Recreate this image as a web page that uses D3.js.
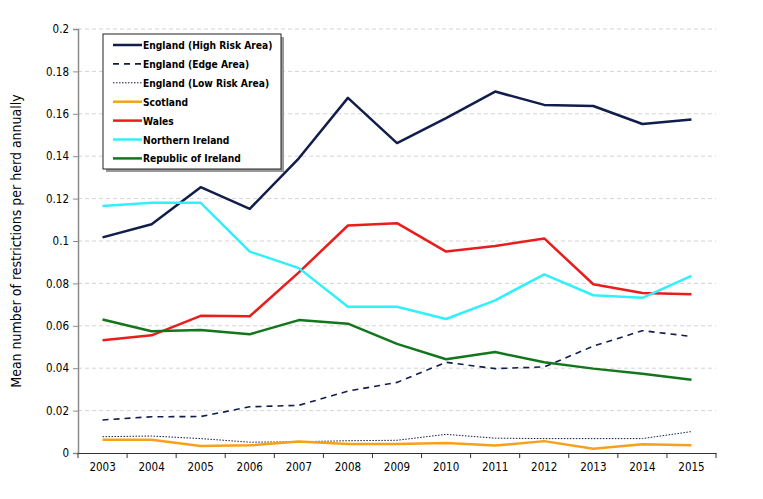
<!DOCTYPE html>
<html>
<head>
<meta charset="utf-8">
<script src="https://cdn.jsdelivr.net/npm/d3@7"></script>
<style>
  body { margin: 0; background: #fff; }
  text { font-family: Tahoma, "DejaVu Sans Condensed", "DejaVu Sans", sans-serif; }
</style>
</head>
<body>
<div id="container"></div>
<script>
const years = ['2003', '2004', '2005', '2006', '2007', '2008', '2009', '2010', '2011', '2012', '2013', '2014', '2015'];
const yTicks = [0, 0.02, 0.04, 0.06, 0.08, 0.1, 0.12, 0.14, 0.16, 0.18, 0.2];

const englandHigh = [0.1017, 0.1079, 0.1254, 0.1152, 0.1390, 0.1675, 0.1462, 0.1580, 0.1705, 0.1642, 0.1637, 0.1552, 0.1573];
const englandEdge = [0.0156, 0.0171, 0.0172, 0.0218, 0.0225, 0.0292, 0.0333, 0.0428, 0.0398, 0.0406, 0.0504, 0.0577, 0.0550];
const englandLow = [0.0077, 0.0080, 0.0068, 0.0051, 0.0053, 0.0058, 0.0060, 0.0088, 0.0070, 0.0068, 0.0068, 0.0068, 0.0101];
const scotland = [0.0062, 0.0062, 0.0033, 0.0036, 0.0054, 0.0042, 0.0042, 0.0047, 0.0035, 0.0056, 0.0020, 0.0041, 0.0036];
const wales = [0.0532, 0.0555, 0.0647, 0.0645, 0.0852, 0.1073, 0.1084, 0.0950, 0.0976, 0.1012, 0.0796, 0.0755, 0.0749];
const northernIreland = [0.1165, 0.1180, 0.1180, 0.0950, 0.0872, 0.0690, 0.0690, 0.0632, 0.0720, 0.0843, 0.0744, 0.0732, 0.0835];
const republicOfIreland = [0.0630, 0.0574, 0.0580, 0.0560, 0.0627, 0.0610, 0.0515, 0.0442, 0.0476, 0.0428, 0.0398, 0.0374, 0.0345];

const series = [
    { name: 'England (High Risk Area)', values: englandHigh, color: '#111d4a', width: 2.5, dash: null },
    { name: 'England (Edge Area)', values: englandEdge, color: '#111d4a', width: 1.6, dash: '6,5' },
    { name: 'England (Low Risk Area)', values: englandLow, color: '#111d4a', width: 1, dash: '1.5,1.5' },
    { name: 'Scotland', values: scotland, color: '#f7a11a', width: 2.5, dash: null },
    { name: 'Wales', values: wales, color: '#ea1c1c', width: 2.5, dash: null },
    { name: 'Northern Ireland', values: northernIreland, color: '#2ff0fb', width: 2.5, dash: null },
    { name: 'Republic of Ireland', values: republicOfIreland, color: '#13761d', width: 2.5, dash: null }
];

const W = 763, H = 499;
const margin = { top: 29, right: 47, bottom: 46, left: 78 };
const width = W - margin.left - margin.right;
const height = H - margin.top - margin.bottom;

const svg = d3.select('#container')
    .append('svg')
    .attr('width', W)
    .attr('height', H);

const g = svg.append('g')
    .attr('transform', `translate(${margin.left}, ${margin.top})`);

const x = d3.scaleBand().domain(years).range([0, width]);
const y = d3.scaleLinear().domain([0, 0.2]).range([height, 0]);

// gridlines
g.append('g')
    .selectAll('line')
    .data(yTicks.filter(d => d > 0))
    .enter()
    .append('line')
    .attr('x1', 0)
    .attr('x2', width)
    .attr('y1', d => y(d))
    .attr('y2', d => y(d))
    .attr('stroke', '#d4d4d4')
    .attr('stroke-width', 1)
    .attr('stroke-dasharray', '4,3');

// y axis
const yAxis = g.append('g')
    .call(d3.axisLeft(y).tickValues(yTicks).tickFormat(d => d === 0 ? '0' : String(+d.toFixed(2))).tickSize(5).tickPadding(4));
yAxis.select('.domain').attr('stroke', '#8c8c8c').attr('stroke-width', 1.5);
yAxis.selectAll('.tick line').attr('stroke', '#8c8c8c');
yAxis.selectAll('text').attr('font-size', 11.5).attr('fill', '#000')
    .style('font-family', 'Tahoma, "DejaVu Sans Condensed", sans-serif');

// x axis
const xAxis = g.append('g')
    .attr('transform', `translate(0, ${height})`)
    .call(d3.axisBottom(x).tickSize(0).tickPadding(10));
xAxis.select('.domain').attr('stroke', '#333').attr('stroke-width', 1.2);
xAxis.selectAll('text').attr('font-size', 11.5).attr('fill', '#000')
    .style('font-family', 'Tahoma, "DejaVu Sans Condensed", sans-serif');

// tick marks between categories
g.append('g')
    .selectAll('line')
    .data(years.concat(['end']))
    .enter()
    .append('line')
    .attr('x1', (d, i) => i * x.step())
    .attr('x2', (d, i) => i * x.step())
    .attr('y1', height)
    .attr('y2', height + 5)
    .attr('stroke', '#333')
    .attr('stroke-width', 1);

// y axis title
svg.append('text')
    .attr('transform', `translate(21, ${margin.top + height / 2}) rotate(-90)`)
    .attr('text-anchor', 'middle')
    .attr('font-size', 14)
    .style('font-family', 'Tahoma, "DejaVu Sans Condensed", sans-serif')
    .text('Mean number of restrictions per herd annually');

// lines
const line = d3.line()
    .x((d, i) => x(years[i]) + x.bandwidth() / 2)
    .y(d => y(d));

g.append('g')
    .selectAll('path')
    .data(series)
    .enter()
    .append('path')
    .attr('d', d => line(d.values))
    .attr('fill', 'none')
    .attr('stroke', d => d.color)
    .attr('stroke-width', d => d.width)
    .attr('stroke-dasharray', d => d.dash)
    .attr('stroke-linejoin', 'round');

// legend
const legend = svg.append('g').attr('transform', 'translate(103, 34)');
legend.append('rect')
    .attr('x', 3).attr('y', 3)
    .attr('width', 178).attr('height', 135)
    .attr('fill', '#999');
legend.append('rect')
    .attr('x', 0).attr('y', 0)
    .attr('width', 178).attr('height', 135)
    .attr('fill', '#fff')
    .attr('stroke', '#222')
    .attr('stroke-width', 1);

const item = legend.selectAll('.item')
    .data(series)
    .enter()
    .append('g')
    .attr('class', 'item')
    .attr('transform', (d, i) => `translate(0, ${11 + i * 18.9})`);

item.append('line')
    .attr('x1', 10).attr('x2', 39)
    .attr('y1', 0).attr('y2', 0)
    .attr('stroke', d => d.color)
    .attr('stroke-width', d => d.width)
    .attr('stroke-dasharray', d => d.dash);

item.append('text')
    .attr('x', 40)
    .attr('y', 4)
    .attr('font-size', 10.2)
    .attr('font-weight', 'bold')
    .style('font-family', 'Tahoma, "DejaVu Sans Condensed", sans-serif')
    .text(d => d.name);
</script>
</body>
</html>
